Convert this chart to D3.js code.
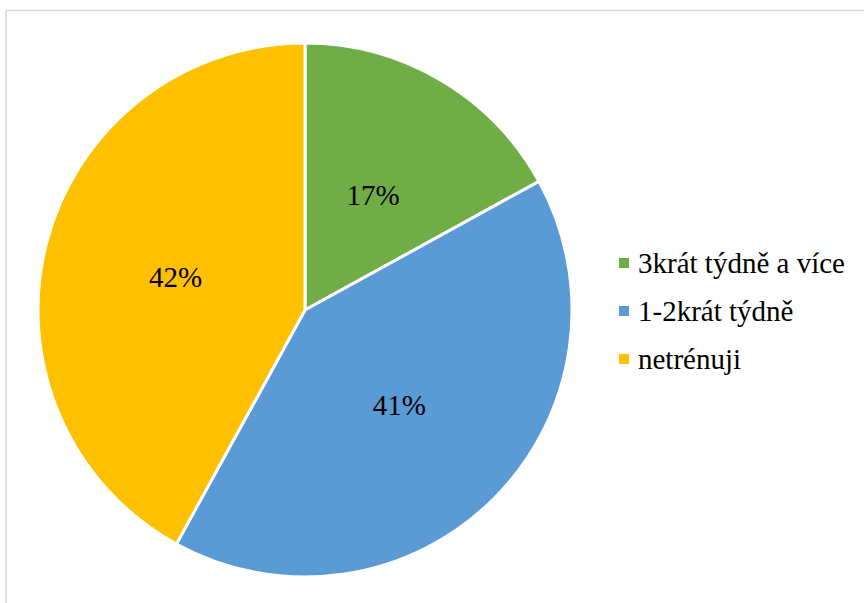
<!DOCTYPE html>
<html>
<head>
  <meta charset="utf-8" />
  <title>Pie chart</title>
  <script src="https://d3js.org/d3.v7.min.js"></script>
  <style>
    body {
      margin: 0;
      background: #fff;
    }
    #chart {
      width: 864px;
      height: 603px;
    }
  </style>
</head>
<body>
  <div id="chart"></div>

  <script>
var categories = ["3krát týdně a více", "1-2krát týdně", "netrénuji"];
var values = [17, 41, 42];
var labels = ["17%", "41%", "42%"];
var colors = ["#70AD47", "#5B9BD5", "#FFC000"];

var width = 864;
var height = 603;
var cx = 305;
var cy = 310;
var radius = 267;
var serif = "Tinos, 'DejaVu Serif', 'Liberation Serif', serif";

var svg = d3.select("#chart").append("svg")
    .attr("width", width)
    .attr("height", height);

// chart frame
svg.append("rect")
    .attr("x", 6)
    .attr("y", 10.5)
    .attr("width", width + 10)
    .attr("height", height + 10)
    .attr("fill", "none")
    .attr("stroke", "#D9D9D9")
    .attr("stroke-width", 1.5);

var data = categories.map((c, i) => ({ name: c, value: values[i], label: labels[i], color: colors[i] }));

var pie = d3.pie()
    .sort(null)
    .value(d => d.value);

var arc = d3.arc()
    .innerRadius(0)
    .outerRadius(radius);

var labelArc = d3.arc()
    .innerRadius(radius * 0.5)
    .outerRadius(radius * 0.5);

var g = svg.append("g")
    .attr("transform", `translate(${cx},${cy})`);

var arcs = pie(data);

g.selectAll("path")
    .data(arcs)
    .join("path")
    .attr("d", arc)
    .attr("fill", d => d.data.color)
    .attr("stroke", "#fff")
    .attr("stroke-width", 3)
    .attr("stroke-linejoin", "round");

g.selectAll("text")
    .data(arcs)
    .join("text")
    .attr("transform", d => `translate(${labelArc.centroid(d)})`)
    .attr("text-anchor", "middle")
    .attr("dy", "0.35em")
    .attr("font-family", serif)
    .attr("font-size", 29)
    .attr("fill", "#000")
    .text(d => d.data.label);

// legend
var legend = svg.append("g")
    .attr("transform", "translate(619,263)");

var items = legend.selectAll("g")
    .data(data)
    .join("g")
    .attr("transform", (d, i) => `translate(0,${i * 48})`);

items.append("rect")
    .attr("x", 0)
    .attr("y", -5)
    .attr("width", 10)
    .attr("height", 10)
    .attr("fill", d => d.color);

items.append("text")
    .attr("x", 19)
    .attr("y", 10)
    .attr("font-family", serif)
    .attr("font-size", 29)
    .attr("fill", "#000")
    .text(d => d.name);
  </script>
</body>
</html>
